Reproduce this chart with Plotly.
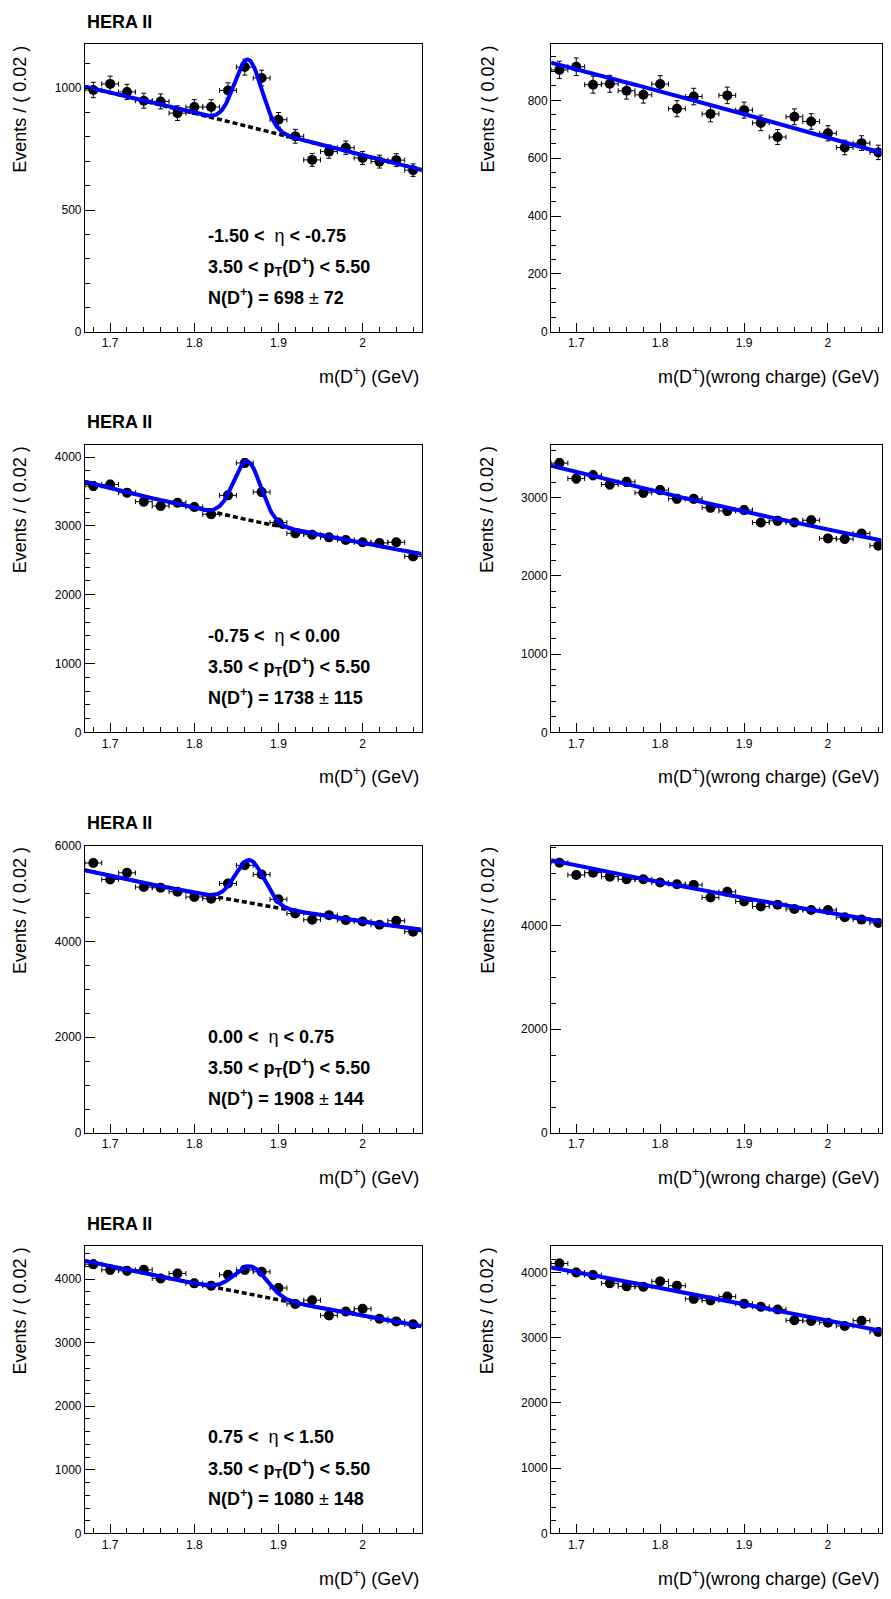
import numpy as np
import plotly.graph_objects as go

# the page body keeps an 8px margin and the visible area ends at x=883,
# so the figure is sized to that visible area
OFF = 8
W, H = 883 - OFF, 1599 - 2 * OFF

# ---------------- data ----------------
mass_bins = [1.68, 1.70, 1.72, 1.74, 1.76, 1.78, 1.80, 1.82, 1.84, 1.86,
             1.88, 1.90, 1.92, 1.94, 1.96, 1.98, 2.00, 2.02, 2.04, 2.06]
bin_half_width = 0.01

# right-charge (signal) samples, one per eta bin
rc_eta1 = [993, 1018, 985, 949, 946, 898, 923, 923, 991, 1087,
           1042, 871, 803, 706, 740, 756, 714, 699, 705, 664]
rc_eta2 = [3578, 3601, 3481, 3352, 3289, 3337, 3275, 3169, 3443, 3914,
           3491, 3049, 2891, 2872, 2833, 2795, 2761, 2752, 2761, 2555]
rc_eta3 = [5642, 5297, 5435, 5138, 5124, 5042, 4931, 4897, 5214, 5593,
           5400, 4883, 4586, 4455, 4552, 4448, 4421, 4352, 4435, 4207]
rc_eta4 = [4234, 4145, 4130, 4145, 4010, 4088, 3933, 3896, 4068, 4145,
           4114, 3860, 3610, 3668, 3429, 3491, 3533, 3377, 3335, 3288]

# wrong-charge samples
wc_eta1 = [905, 916, 854, 857, 833, 819, 856, 771, 813, 753,
           817, 766, 722, 673, 743, 727, 686, 637, 652, 620]
wc_eta2 = [3443, 3245, 3287, 3169, 3203, 3063, 3097, 2987, 2987, 2873,
           2831, 2843, 2683, 2704, 2683, 2712, 2480, 2472, 2543, 2387]
wc_eta3 = [5210, 4974, 5019, 4942, 4891, 4891, 4828, 4796, 4783, 4541,
           4649, 4465, 4369, 4401, 4318, 4299, 4299, 4159, 4114, 4051]
wc_eta4 = [4137, 4000, 3959, 3833, 3787, 3782, 3863, 3797, 3595, 3569,
           3630, 3519, 3473, 3433, 3266, 3256, 3230, 3180, 3261, 3088]

# fit curves: background at m=1.67, 1.87, 2.07
rc_bkg = [[1007, 838, 665], [3640, 3070, 2593], [5490, 4790, 4248], [4286, 3750, 3257]]
rc_peak_mean = [1.864, 1.863, 1.866, 1.867]
rc_peak_amp = [275, 850, 900, 443]
rc_peak_sigma = [0.016, 0.0163, 0.0169, 0.019]
wc_bkg = [[930, 776, 614], [3410, 2895, 2442], [5261, 4620, 4063], [4076, 3590, 3088]]

eta_labels = ["-1.50 < ", "-0.75 < ", "0.00 < ", "0.75 < "]
eta_labels_hi = [" < -0.75", " < 0.00", " < 0.75", " < 1.50"]
pt_label = "3.50 < p<sub>T</sub>(D<sup>+</sup>) < 5.50"
n_signal = [698, 1738, 1908, 1080]
n_signal_err = [72, 115, 144, 148]

rc_ymax = [1180, 4177, 6005, 4520]
wc_ymax = [993, 3676, 5541, 4405]
rc_ydtick = [500, 1000, 2000, 1000]
rc_yminor = [100, 200, 500, 200]
wc_ydtick = [200, 1000, 2000, 1000]
wc_yminor = [50, 200, 500, 200]

x_range = [1.67, 2.07]
x_tickvals = [1.7, 1.8, 1.9, 2.0]
x_ticktext = ["1.7", "1.8", "1.9", "2"]

# ---------------- layout geometry (window px) ----------------
left_x = (85, 422)
right_x = (551.7, 887.7)
row_top = [37.7, 441.7, 846.0, 1250.0]
plot_h = 290.0
VIS_RIGHT = 882.5

FONT = "Liberation Sans, Arial, Helvetica, sans-serif"
BLUE = "#0000ff"


def fx(px):
    return (px - OFF) / W


def fy(py):
    return 1 - (py - OFF) / H


def bkg_curve(x, anchors):
    t = (np.asarray(x) - 1.87) / 0.2
    a = anchors[1]
    b = (anchors[2] - anchors[0]) / 2.0
    c = (anchors[0] + anchors[2]) / 2.0 - anchors[1]
    return a + b * t + c * t * t


fig = go.Figure()
annotations = []
layout_axes = {}

xs = np.linspace(x_range[0], x_range[1], 400)

rc_all = [rc_eta1, rc_eta2, rc_eta3, rc_eta4]
wc_all = [wc_eta1, wc_eta2, wc_eta3, wc_eta4]

for r in range(4):
    for c in range(2):
        idx = r * 2 + c + 1
        xa = "x" if idx == 1 else f"x{idx}"
        ya = "y" if idx == 1 else f"y{idx}"
        xk = "xaxis" if idx == 1 else f"xaxis{idx}"
        yk = "yaxis" if idx == 1 else f"yaxis{idx}"
        px0, px1 = left_x if c == 0 else right_x
        top = row_top[r]
        bot = top + plot_h

        # keep the reference's scale; cut the frame where the visible page ends
        px1_vis = min(px1, VIS_RIGHT)
        xr = [x_range[0], x_range[0] + (x_range[1] - x_range[0]) * (px1_vis - px0) / (px1 - px0)]

        yvals = rc_all[r] if c == 0 else wc_all[r]
        errs = [float(np.sqrt(v)) for v in yvals]

        # data points
        fig.add_trace(go.Scatter(
            x=mass_bins, y=yvals, mode="markers",
            marker=dict(color="black", size=10),
            error_y=dict(type="data", array=errs, color="black", thickness=1, width=2.5),
            error_x=dict(type="constant", value=bin_half_width, color="black", thickness=1, width=2.5),
            xaxis=xa, yaxis=ya, showlegend=False, cliponaxis=True))

        if c == 0:
            bg = bkg_curve(xs, rc_bkg[r])
            tot = bg + rc_peak_amp[r] * np.exp(-0.5 * ((xs - rc_peak_mean[r]) / rc_peak_sigma[r]) ** 2)
            fig.add_trace(go.Scatter(x=xs, y=bg, mode="lines",
                                     line=dict(color="black", width=3.5, dash="5px,3px"),
                                     xaxis=xa, yaxis=ya, showlegend=False))
            fig.add_trace(go.Scatter(x=xs, y=tot, mode="lines",
                                     line=dict(color=BLUE, width=4),
                                     xaxis=xa, yaxis=ya, showlegend=False))
        else:
            bg = bkg_curve(xs, wc_bkg[r])
            fig.add_trace(go.Scatter(x=xs, y=bg, mode="lines",
                                     line=dict(color=BLUE, width=4),
                                     xaxis=xa, yaxis=ya, showlegend=False))

        ymax = rc_ymax[r] if c == 0 else wc_ymax[r]
        ydt = rc_ydtick[r] if c == 0 else wc_ydtick[r]
        ymn = rc_yminor[r] if c == 0 else wc_yminor[r]

        layout_axes[xk] = dict(
            domain=[fx(px0), min(fx(px1_vis), 1.0)], range=xr, anchor=ya,
            showgrid=False, zeroline=False, showline=True, linecolor="black",
            linewidth=1, mirror=True,
            ticks="inside", ticklen=9, tickwidth=1, tickcolor="black",
            tickvals=x_tickvals, ticktext=x_ticktext,
            tickfont=dict(family=FONT, size=12, color="black"),
            minor=dict(tickvals=mass_bins, ticks="inside", ticklen=5,
                       tickcolor="black", tickwidth=1, showgrid=False),
        )
        layout_axes[yk] = dict(
            domain=[fy(bot), fy(top)], range=[0, ymax], anchor=xa,
            showgrid=False, zeroline=False, showline=True, linecolor="black",
            linewidth=1, mirror=True,
            ticks="inside", ticklen=10, tickwidth=1, tickcolor="black",
            dtick=ydt, tick0=0,
            tickfont=dict(family=FONT, size=12, color="black"),
            minor=dict(dtick=ymn, ticks="inside", ticklen=5,
                       tickcolor="black", tickwidth=1, showgrid=False),
        )

        # y axis title
        annotations.append(dict(
            text="Events / ( 0.02 )", textangle=-90, showarrow=False,
            xref="paper", yref="paper",
            x=fx(20 if c == 0 else 488.3), y=fy(top + 65),
            xanchor="center", yanchor="middle",
            font=dict(family=FONT, size=18, color="black")))
        # x axis title
        xt = "m(D<sup>+</sup>) (GeV)" if c == 0 else "m(D<sup>+</sup>)(wrong charge) (GeV)"
        annotations.append(dict(
            text=xt, showarrow=False, xref="paper", yref="paper",
            x=fx(min(px1 - 1, VIS_RIGHT - 1)), y=fy(bot + 44), xanchor="right", yanchor="middle",
            font=dict(family=FONT, size=18, color="black")))

        if c == 0:
            annotations.append(dict(
                text="<b>HERA II</b>", showarrow=False, xref="paper", yref="paper",
                x=fx(px0), y=fy(top - 22.7), xanchor="left", yanchor="middle",
                font=dict(family=FONT, size=18, color="black")))
            lines = [
                "<b>" + eta_labels[r] + "</b> <span style='font-weight:normal'>\u03b7</span><b>" + eta_labels_hi[r] + "</b>",
                "<b>" + pt_label + "</b>",
                "<b>N(D<sup>+</sup>) = " + str(n_signal[r]) + " </b><span style='font-weight:normal'>\u00b1</span><b> " + str(n_signal_err[r]) + "</b>",
            ]
            offs = [97, 66, 36]
            for ln, off in zip(lines, offs):
                annotations.append(dict(
                    text=ln, showarrow=False, xref="paper", yref="paper",
                    x=fx(206.7), y=fy(bot - off), xanchor="left", yanchor="middle",
                    font=dict(family=FONT, size=18, color="black")))

fig.update_layout(
    width=W, height=H,
    margin=dict(l=0, r=0, t=0, b=0),
    paper_bgcolor="white", plot_bgcolor="white",
    annotations=annotations,
    showlegend=False,
    **layout_axes,
)

fig.write_html("out.html")
